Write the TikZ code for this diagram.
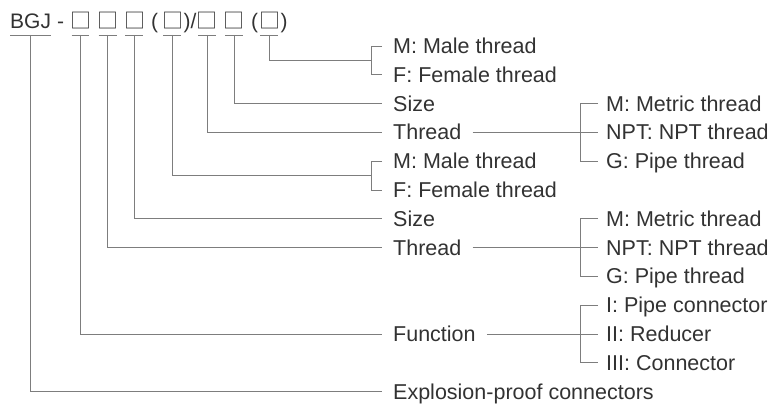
\documentclass[tikz,border=0pt]{standalone}
\usepackage{fontspec}
\setmainfont{Liberation Sans}
\newfontfamily\cjk{Noto Sans CJK SC}
\usepackage[]{xcolor}
\usetikzlibrary{positioning,calc}
\definecolor{ink}{RGB}{50,50,50}
\definecolor{wire}{RGB}{125,125,125}

\begin{document}
\begin{tikzpicture}[
        x=1pt, y=-1pt,
        font=\fontsize{21.5}{25}\selectfont, text=ink,
        glyph/.style={inner sep=0pt, font=\fontsize{21}{25}\selectfont},
        item/.style={anchor=west, inner xsep=11pt, inner ysep=0pt, text height=15pt, text depth=0pt},
        choice/.style={item, inner xsep=8pt},
        link/.style={draw=wire, line width=0.9pt}
    ]
    \useasboundingbox (0,0) rectangle (782,404);

    % code line
    \node[glyph, anchor=base west] (bgj) at (10,29) {BGJ};
    \node[glyph, base right=5.8pt of bgj] (dash) {-};
    \node[glyph, base right=5.6pt of dash] (b1) {\cjk □};
    \node[glyph, base right=5.8pt of b1] (b2) {\cjk □};
    \node[glyph, base right=5.2pt of b2] (b3) {\cjk □};
    \node[glyph, base right=5.8pt of b3] (lp1) {(};
    \node[glyph, base right=3.5pt of lp1] (b4) {\cjk □};
    \node[glyph, base right=0pt of b4] (rp1) {)/};
    \node[glyph, base right=0pt of rp1] (b5) {\cjk □};
    \node[glyph, base right=5.8pt of b5] (b6) {\cjk □};
    \node[glyph, base right=5.8pt of b6] (lp2) {(};
    \node[glyph, base right=0.6pt of lp2] (b7) {\cjk □};
    \node[glyph, base right=0pt of b7] (rp2) {)};

    % first column
    \node[item] (male1) at (382,46) {M: Male thread};
    \node[item] (female1) at (382,74.8) {F: Female thread};
    \node[item] (size1) at (382,103.6) {Size};
    \node[item] (thread1) at (382,132.4) {Thread};
    \node[item] (male2) at (382,161.2) {M: Male thread};
    \node[item] (female2) at (382,190) {F: Female thread};
    \node[item] (size2) at (382,218.8) {Size};
    \node[item] (thread2) at (382,247.6) {Thread};
    \node[item] (func) at (382,334) {Function};
    \node[item] (expl) at (382,391.6) {Explosion-proof connectors};

    % second column
    \node[choice] (metric1) at (598,103.6) {M: Metric thread};
    \node[choice] (npt1) at (598,132.4) {NPT: NPT thread};
    \node[choice] (pipe1) at (598,161.2) {G: Pipe thread};
    \node[choice] (metric2) at (598,218.8) {M: Metric thread};
    \node[choice] (npt2) at (598,247.6) {NPT: NPT thread};
    \node[choice] (pipe2) at (598,276.4) {G: Pipe thread};
    \node[choice] (conn1) at (598,305.2) {I: Pipe connector};
    \node[choice] (conn2) at (598,334) {II: Reducer};
    \node[choice] (conn3) at (598,362.8) {III: Connector};

    % underlines
    \coordinate (ul) at (0,35);
    \draw[link] (bgj.west |- ul) -- (bgj.east |- ul);
    \foreach \b in {b1,b2,b3,b4,b5,b6,b7}
        \draw[link, shorten <=1.5pt, shorten >=2pt] (\b.west |- ul) -- (\b.east |- ul);

    % brackets
    \coordinate (mf1) at ($(male1.west)!.5!(female1.west)+(-11,0)$);
    \coordinate (mf2) at ($(male2.west)!.5!(female2.west)+(-11,0)$);
    \draw[link] (male1.west) -| (mf1 |- female1.west) -- (female1.west);
    \draw[link] (male2.west) -| (mf2 |- female2.west) -- (female2.west);
    \coordinate (br1) at ($(npt1.west)+(-18,0)$);
    \draw[link] (metric1.west) -| (br1 |- pipe1.west) -- (pipe1.west);
    \draw[link] (metric2.west) -| (br1 |- pipe2.west) -- (pipe2.west);
    \draw[link] (conn1.west) -| (br1 |- conn3.west) -- (conn3.west);

    % drops
    \draw[link] (bgj.center |- ul) |- (expl.west);
    \draw[link] (b1.center |- ul) |- (func.west);
    \draw[link] (b2.center |- ul) |- (thread2.west);
    \draw[link] (b3.center |- ul) |- (size2.west);
    \draw[link] (b4.center |- ul) |- (mf2);
    \draw[link] (b5.center |- ul) |- (thread1.west);
    \draw[link] (b6.center |- ul) |- (size1.west);
    \draw[link] (b7.center |- ul) |- (mf1);

    % choices
    \draw[link] (thread1.east) -- (npt1.west);
    \draw[link] (thread2.east) -- (npt2.west);
    \draw[link] (func.east) -- (conn2.west);
\end{tikzpicture}
\end{document}
